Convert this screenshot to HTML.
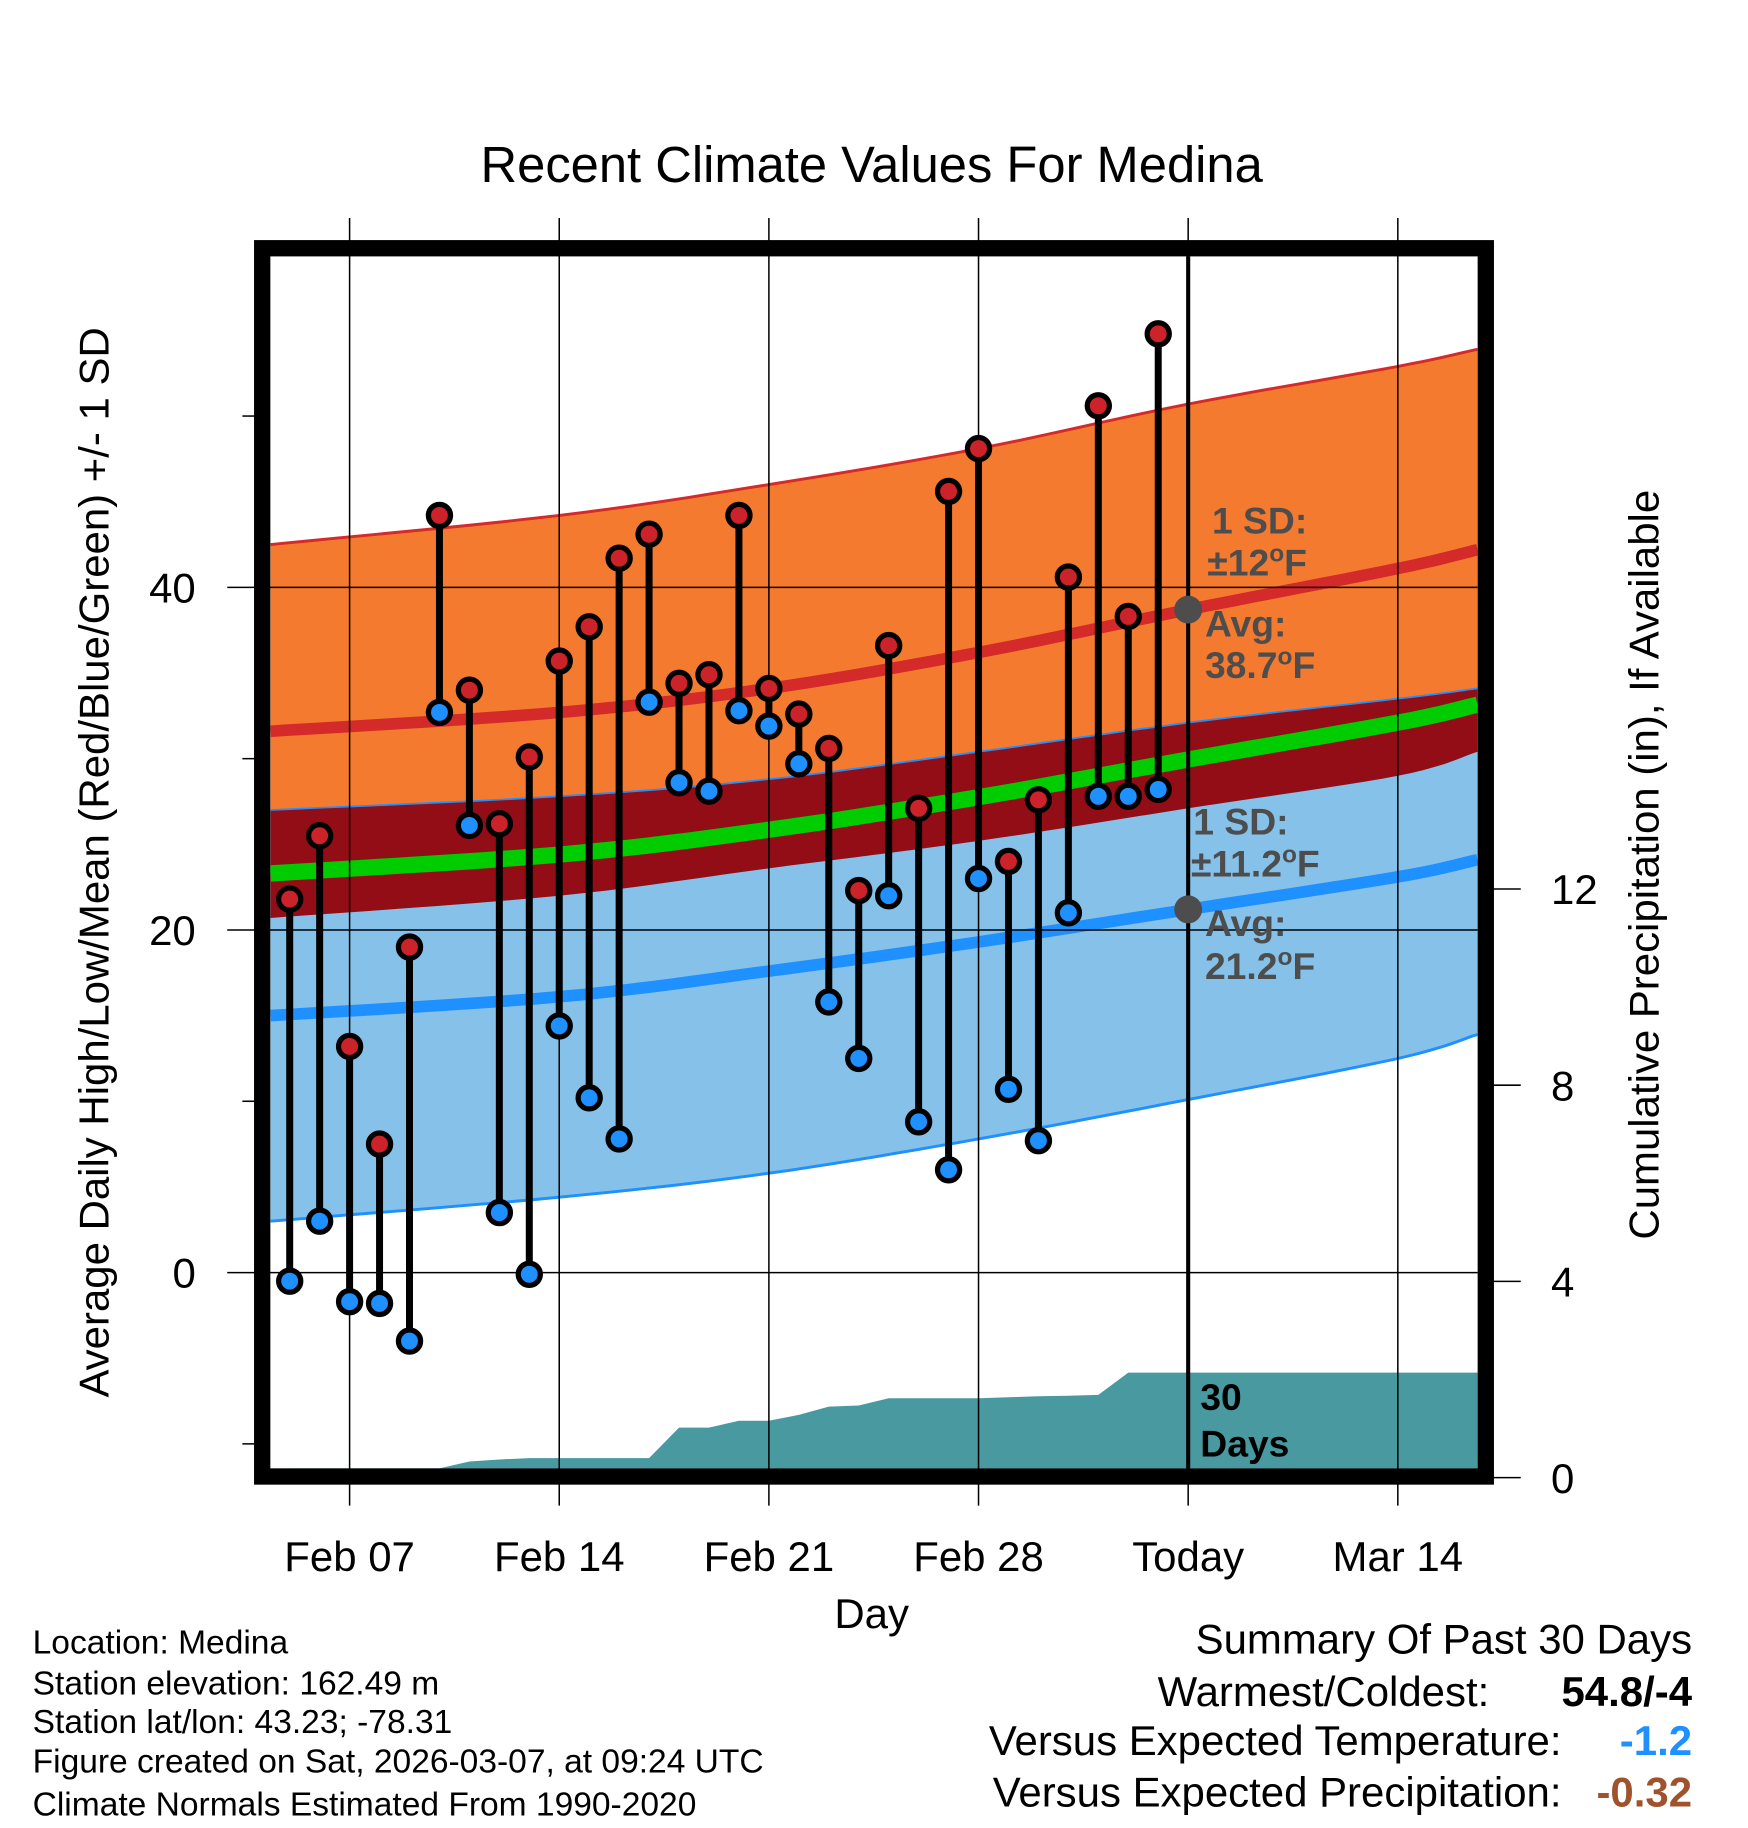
<!DOCTYPE html>
<html><head><meta charset="utf-8"><style>
html,body{margin:0;padding:0;background:#fff;}
svg{display:block;font-family:"Liberation Sans",Arial,sans-serif;}
</style></head><body>
<svg id="chart" width="1748" height="1828" viewBox="0 0 1500 1568.6" xmlns="http://www.w3.org/2000/svg">
<defs><clipPath id="plotclip"><rect x="232" y="220" width="1036" height="1040"/></clipPath></defs>
<rect width="1500" height="1568.6" fill="#fff"/>
<text x="748" y="156" font-size="43.5" text-anchor="middle">Recent Climate Values For Medina</text>
<g id="bands" clip-path="url(#plotclip)"></g>
<g id="grid"></g>
<g id="marks" clip-path="url(#plotclip)"></g>
<g id="annot"></g>
<rect x="225" y="213" width="1050" height="1054" fill="none" stroke="#000" stroke-width="14"/>
<g id="axes"></g>
<text x="748" y="1397" font-size="36" text-anchor="middle">Day</text>
<text transform="translate(93,740) rotate(-90)" font-size="36" text-anchor="middle">Average Daily High/Low/Mean (Red/Blue/Green) +/- 1 SD</text>
<text transform="translate(1423,742) rotate(-90)" font-size="36" text-anchor="middle">Cumulative Precipitation (in), If Available</text>
<g font-size="28.8">
<text x="28" y="1419">Location: Medina</text>
<text x="28" y="1454">Station elevation: 162.49 m</text>
<text x="28" y="1487">Station lat/lon: 43.23; -78.31</text>
<text x="28" y="1521">Figure created on Sat, 2026-03-07, at 09:24 UTC</text>
<text x="28" y="1558">Climate Normals Estimated From 1990-2020</text>
</g>
<g font-size="36">
<text x="1452" y="1419" text-anchor="end">Summary Of Past 30 Days</text>
<text x="1278" y="1464" text-anchor="end">Warmest/Coldest:</text>
<text x="1452" y="1464" text-anchor="end" font-weight="bold">54.8/-4</text>
<text x="1340" y="1506" text-anchor="end">Versus Expected Temperature:</text>
<text x="1452" y="1506" text-anchor="end" font-weight="bold" fill="#1e90ff">-1.2</text>
<text x="1340" y="1550" text-anchor="end">Versus Expected Precipitation:</text>
<text x="1452" y="1550" text-anchor="end" font-weight="bold" fill="#a0522d">-0.32</text>
</g>
</svg>
<script>
// days measured from Feb 07 (day 0)
const normDays = [-2.64, 7, 14, 21, 28, 35, 37.66];
const highAvg = [31.6, 32.7, 34.1, 36.2, 38.7, 41.1, 42.2];
const lowAvg = [15.0, 16.1, 17.6, 19.3, 21.2, 23.1, 24.1];
const highUpper = [42.5, 44.2, 46.0, 48.1, 50.7, 52.9, 53.9];
const highLower = [20.7, 22.0, 23.6, 25.2, 27.1, 29.0, 30.4];
const lowUpper = [27.0, 27.8, 28.8, 30.4, 32.1, 33.5, 34.1];
const lowLower = [3.0, 4.4, 5.8, 7.8, 10.1, 12.5, 13.9];
const obsDays = [-2,-1,0,1,2,3,4,5,6,7,8,9,10,11,12,13,14,15,16,17,18,19,20,21,22,23,24,25,26,27];
const highs = [21.8,25.5,13.2,7.5,19.0,44.2,34.0,26.2,30.1,35.7,37.7,41.7,43.1,34.4,34.9,44.2,34.1,32.6,30.6,22.3,36.6,27.1,45.6,48.1,24.0,27.6,40.6,50.6,38.3,54.8];
const lows = [-0.5,3.0,-1.7,-1.8,-4.0,32.7,26.1,3.5,-0.1,14.4,10.2,7.8,33.3,28.6,28.1,32.8,31.9,29.7,15.8,12.5,22.0,8.8,6.0,23.0,10.7,7.7,21.0,27.8,27.8,28.2];
const precip = [0,0,0,0,0,0.1,0.33,0.37,0.4,0.4,0.4,0.4,0.4,1.02,1.02,1.16,1.16,1.28,1.45,1.47,1.62,1.62,1.62,1.62,1.64,1.66,1.67,1.69,2.14,2.14];
const xTickDays = [0,7,14,21,28,35];
const xTickLabels = ["Feb 07","Feb 14","Feb 21","Feb 28","Today","Mar 14"];
const yTicks = [0,20,40];
const yMinor = [-10,10,30,50];
const y2Ticks = [0,4,8,12];
const todayDay = 28;
const todayHighAvg = 38.7, todayLowAvg = 21.2;

const NS="http://www.w3.org/2000/svg";
const xs=d=>300+25.7*d;
const ys=v=>1092-14.7*v;
const yp=p=>1268-42.1*p;
function mk(parent,tag,attrs){const e=document.createElementNS(NS,tag);for(const k in attrs)e.setAttribute(k,attrs[k]);document.getElementById(parent).appendChild(e);return e;}
// smooth interpolation (Catmull-Rom) of a normals array
function smooth(arr){
  const out=[];const n=normDays.length;
  for(let i=0;i<n-1;i++){
    const p0=arr[Math.max(i-1,0)],p1=arr[i],p2=arr[i+1],p3=arr[Math.min(i+2,n-1)];
    const d0=normDays[Math.max(i-1,0)],d1=normDays[i],d2=normDays[i+1],d3=normDays[Math.min(i+2,n-1)];
    for(let k=0;k<10;k++){const t=k/10;const t2=t*t,t3=t2*t;
      const v=0.5*((2*p1)+(-p0+p2)*t+(2*p0-5*p1+4*p2-p3)*t2+(-p0+3*p1-3*p2+p3)*t3);
      const d=0.5*((2*d1)+(-d0+d2)*t+(2*d0-5*d1+4*d2-d3)*t2+(-d0+3*d1-3*d2+d3)*t3);
      out.push(xs(d).toFixed(1)+","+ys(v).toFixed(1));}
  }
  out.push(xs(normDays[n-1]).toFixed(1)+","+ys(arr[n-1]).toFixed(1));
  return out;
}
function band(lo,hi){return smooth(hi).concat(smooth(lo).reverse()).join(" ");}
function line(arr){return "M"+smooth(arr).join(" L");}

let e;
e=mk("bands","polygon",{points:band(highLower,highUpper),fill:"#f47a2f"});


e=mk("bands","polygon",{points:band(lowLower,lowUpper),fill:"#85c1e8"});


e=mk("bands","polygon",{points:band(highLower,lowUpper),fill:"#930d16"});


e=mk("bands","path",{d:line(highUpper),fill:"none",stroke:"#d42a2a","stroke-width":2.5});


e=mk("bands","path",{d:line(lowUpper),fill:"none",stroke:"#1e90ff","stroke-width":1.5});


e=mk("bands","path",{d:line(lowLower),fill:"none",stroke:"#1e90ff","stroke-width":2.5});


e=mk("bands","path",{d:line(highAvg),fill:"none",stroke:"#d42a2a","stroke-width":10});


e=mk("bands","path",{d:line(lowAvg),fill:"none",stroke:"#1e90ff","stroke-width":10});


const meanArr=highAvg.map((h,i)=>(h+lowAvg[i])/2);
e=mk("bands","path",{d:line(meanArr),fill:"none",stroke:"#00cc00","stroke-width":14});


// precipitation area
let pp=[xs(obsDays[0])+","+1262];
obsDays.forEach((d,i)=>{pp.push(xs(d).toFixed(1)+","+Math.min(yp(precip[i]),1260).toFixed(1));});
pp.push("1270,"+yp(precip[precip.length-1]).toFixed(1));pp.push("1270,1262");
e=mk("bands","polygon",{points:pp.join(" "),fill:"#4899a0"});



// grid
xTickDays.forEach((d,i)=>{
 e=mk("grid","line",{x1:xs(d),x2:xs(d),y1:187,y2:1292,stroke:"#000","stroke-width":1.3});
 
 
 e=mk("axes","text",{x:xs(d),y:1348,"font-size":36,"text-anchor":"middle"});
 e.textContent=xTickLabels[i];
 
 
});
yTicks.forEach(v=>{
 e=mk("grid","line",{x1:195,x2:1268,y1:ys(v),y2:ys(v),stroke:"#000","stroke-width":1.3});
 
 
 e=mk("axes","text",{x:168,y:ys(v)+13,"font-size":36,"text-anchor":"end"});
 e.textContent=v;
 
 
});
yMinor.forEach(v=>{
 e=mk("axes","line",{x1:208,x2:220,y1:ys(v),y2:ys(v),stroke:"#000","stroke-width":1.3});
 
 
});
y2Ticks.forEach(p=>{
 e=mk("axes","line",{x1:1280,x2:1305,y1:yp(p),y2:yp(p),stroke:"#000","stroke-width":1.3});
 
 
 e=mk("axes","text",{x:1331,y:yp(p)+13,"font-size":36});
 e.textContent=p;
 
 
});

// today line
e=mk("marks","line",{x1:xs(todayDay),x2:xs(todayDay),y1:220,y2:1260,stroke:"#000","stroke-width":3.5});



// observations
obsDays.forEach((d,i)=>{
 const x=xs(d);
 e=mk("marks","line",{x1:x,x2:x,y1:ys(highs[i]),y2:ys(lows[i]),stroke:"#000","stroke-width":6});
 
 
 e=mk("marks","circle",{cx:x,cy:ys(highs[i]),r:9.5,fill:"#cc2229",stroke:"#000","stroke-width":4.5});
 
 
 e=mk("marks","circle",{cx:x,cy:ys(lows[i]),r:9.5,fill:"#1e90ff",stroke:"#000","stroke-width":4.5});
 
 
});
e=mk("marks","circle",{cx:xs(todayDay),cy:ys(todayHighAvg),r:12,fill:"#4d4d4d"});


e=mk("marks","circle",{cx:xs(todayDay),cy:ys(todayLowAvg),r:12,fill:"#4d4d4d"});



// annotations
const ann=[["1 SD:",1040,458,"#4d4d4d","high-sd-label",""],["±12",1036,494,"#4d4d4d","high-sd-value","F"],["Avg:",1034,546,"#4d4d4d","high-avg-label",""],["38.7",1034,582,"#4d4d4d","high-avg-value","F"],
["1 SD:",1024,716,"#4d4d4d","low-sd-label",""],["±11.2",1022,752,"#4d4d4d","low-sd-value","F"],["Avg:",1034,803,"#4d4d4d","low-avg-label",""],["21.2",1034,840,"#4d4d4d","low-avg-value","F"],
["30",1030,1210,"#000","precip-days-label",""],["Days",1030,1250,"#000","precip-days-label",""]];
ann.forEach(a=>{
 e=mk("annot","text",{x:a[1],y:a[2],"font-size":32,"font-weight":"bold",fill:a[3]});
 
 
 e.appendChild(document.createTextNode(a[0]));
 if(a[5]){
   const s=document.createElementNS(NS,"tspan");s.setAttribute("dy","-12");s.setAttribute("font-size","21");s.textContent="o";e.appendChild(s);
   const f=document.createElementNS(NS,"tspan");f.setAttribute("dy","12");f.textContent=a[5];e.appendChild(f);
 }
});
</script>
</body></html>
